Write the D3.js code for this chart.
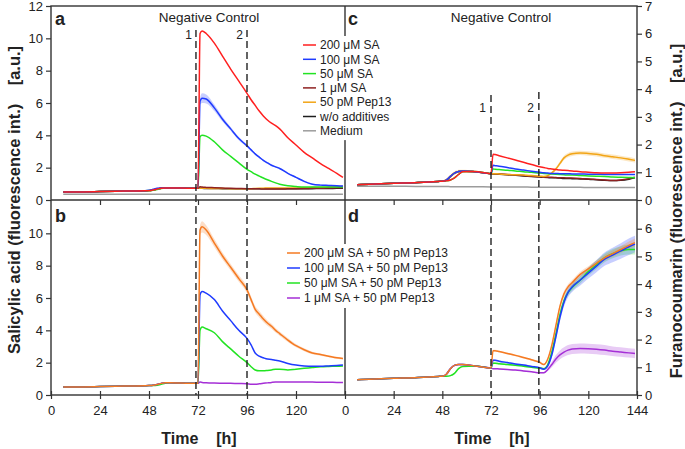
<!DOCTYPE html>
<html>
<head>
<meta charset="utf-8">
<script src="https://cdn.jsdelivr.net/npm/d3@7"></script>
<style>
body{margin:0;background:#fff}
text{font-family:"Liberation Sans",Arial,sans-serif;fill:#222}
</style>
</head>
<body>
<script>
// sampling times [h], shared by every series
const hours=[6,12,24,36,46,48,50,52,54,56,58,64,72,73,74,76,80,84,88,92,96,98,100,102,104,106,108,110,112,116,120,124,128,132,136,140,143]

// panel a: salicylic acid, negative control
const a200=[0.5,0.5,0.52,0.55,0.57,0.58,0.62,0.68,0.73,0.75,0.75,0.74,0.72, 10.3,10.45,10.3,9.7,8.9,8.1,7.35,6.6,6.2,5.85,5.5,5.2,4.95,4.75,4.6,4.4,3.85,3.4,2.95,2.6,2.25,1.95,1.65,1.4]
const a100=[0.5,0.5,0.52,0.55,0.57,0.6,0.66,0.72,0.75,0.75,0.75,0.74,0.72, 6.1,6.3,6.25,5.7,5.0,4.4,3.8,3.35,3.1,2.85,2.65,2.45,2.3,2.15,2.05,1.95,1.65,1.4,1.15,0.98,0.92,0.9,0.88,0.86]
const a100sd=[0.02,0.02,0.02,0.02,0.02,0.03,0.04,0.04,0.04,0.03,0.03,0.02,0.02, 0.2,0.3,0.28,0.2,0.15,0.12,0.1,0.08,0.07,0.06,0.06,0.05,0.05,0.05,0.05,0.05,0.04,0.04,0.04,0.04,0.04,0.04,0.04,0.04]
const a50=[0.5,0.5,0.52,0.55,0.57,0.58,0.6,0.65,0.71,0.74,0.75,0.74,0.72, 3.9,4.0,3.95,3.6,3.1,2.7,2.3,1.9,1.75,1.6,1.48,1.36,1.25,1.15,1.06,0.98,0.88,0.83,0.8,0.8,0.8,0.8,0.8,0.8]
const a1=[0.5,0.5,0.52,0.55,0.57,0.58,0.62,0.68,0.73,0.75,0.75,0.74,0.72, 0.82,0.8,0.78,0.76,0.74,0.72,0.71,0.7,0.7,0.69,0.69,0.68,0.68,0.68,0.68,0.68,0.69,0.7,0.71,0.72,0.73,0.74,0.75,0.76]
const aPep=[0.5,0.5,0.52,0.55,0.57,0.58,0.62,0.68,0.73,0.75,0.75,0.74,0.72, 0.72,0.72,0.72,0.71,0.71,0.7,0.7,0.7,0.7,0.71,0.72,0.73,0.74,0.75,0.75,0.75,0.75,0.75,0.76,0.77,0.78,0.8,0.82,0.84]
const aNone=[0.5,0.5,0.52,0.55,0.57,0.58,0.62,0.68,0.73,0.75,0.75,0.74,0.72, 0.72,0.72,0.71,0.71,0.7,0.7,0.7,0.7,0.7,0.7,0.7,0.7,0.7,0.7,0.7,0.7,0.7,0.7,0.7,0.7,0.71,0.71,0.72,0.72]
const aMed=[0.36,0.36,0.36,0.36,0.36,0.36,0.36,0.36,0.36,0.36,0.36,0.36,0.36, 0.36,0.36,0.36,0.36,0.36,0.36,0.36,0.36,0.36,0.36,0.36,0.36,0.36,0.36,0.36,0.36,0.36,0.36,0.36,0.36,0.36,0.36,0.36,0.36]

// panel b: salicylic acid, SA + Pep13
const b200=[0.5,0.5,0.52,0.55,0.57,0.58,0.6,0.65,0.72,0.76,0.76,0.74,0.72, 10.2,10.4,10.2,9.4,8.6,7.9,7.2,6.5,5.9,5.3,5.0,4.7,4.45,4.25,4.0,3.8,3.4,3.05,2.8,2.6,2.5,2.4,2.3,2.25]
const b200sd=[0.02,0.02,0.02,0.02,0.02,0.02,0.03,0.03,0.03,0.03,0.02,0.02,0.02, 0.3,0.35,0.3,0.25,0.22,0.2,0.2,0.2,0.2,0.2,0.2,0.18,0.16,0.15,0.14,0.13,0.12,0.1,0.09,0.08,0.07,0.06,0.06,0.06]
const b100=[0.5,0.5,0.52,0.55,0.57,0.58,0.6,0.65,0.72,0.76,0.76,0.74,0.72, 6.2,6.4,6.3,5.9,5.2,4.6,4.0,3.5,3.1,2.6,2.4,2.3,2.22,2.2,2.15,2.1,1.95,1.85,1.8,1.78,1.78,1.8,1.82,1.85]
const b50=[0.5,0.5,0.52,0.55,0.57,0.58,0.58,0.6,0.66,0.73,0.76,0.74,0.72, 4.0,4.2,4.1,3.85,3.3,2.85,2.4,2.0,1.75,1.55,1.5,1.5,1.52,1.55,1.6,1.6,1.55,1.6,1.65,1.7,1.75,1.77,1.78,1.8]
const b1=[0.5,0.5,0.52,0.55,0.57,0.58,0.6,0.65,0.72,0.76,0.76,0.74,0.72, 0.8,0.78,0.76,0.74,0.73,0.72,0.71,0.7,0.67,0.67,0.69,0.72,0.75,0.78,0.8,0.8,0.8,0.8,0.8,0.8,0.79,0.79,0.78,0.78]

// panel c: furanocoumarin, negative control
const c200=[0.55,0.57,0.6,0.63,0.67,0.68,0.69,0.72,0.8,0.92,1.02,1.03,0.95, 1.65,1.64,1.6,1.52,1.44,1.36,1.28,1.2,1.17,1.14,1.12,1.1,1.08,1.07,1.06,1.05,1.02,1.0,0.98,0.97,0.97,0.98,1.0,1.02]
const c100=[0.55,0.57,0.6,0.63,0.67,0.68,0.72,0.85,0.97,1.03,1.05,1.02,0.95, 1.25,1.24,1.22,1.17,1.12,1.08,1.04,1.0,0.98,0.97,0.96,0.96,0.95,0.95,0.95,0.94,0.94,0.93,0.93,0.92,0.92,0.92,0.92,0.92]
const c50=[0.55,0.57,0.6,0.63,0.67,0.68,0.69,0.72,0.8,0.92,1.02,1.03,0.95, 1.12,1.11,1.1,1.07,1.05,1.02,1.0,0.97,0.96,0.95,0.94,0.93,0.92,0.91,0.9,0.9,0.88,0.87,0.86,0.85,0.83,0.82,0.81,0.8]
const c1=[0.55,0.57,0.6,0.63,0.67,0.68,0.72,0.85,0.97,1.03,1.05,1.02,0.95, 0.95,0.95,0.94,0.92,0.9,0.88,0.86,0.84,0.83,0.82,0.82,0.81,0.8,0.8,0.79,0.79,0.78,0.76,0.74,0.72,0.7,0.72,0.77,0.82]
const cPep=[0.55,0.57,0.6,0.63,0.67,0.68,0.72,0.85,0.97,1.03,1.05,1.02,0.95, 0.95,0.95,0.94,0.92,0.91,0.9,0.88,0.86,0.85,0.88,0.98,1.12,1.32,1.52,1.62,1.67,1.7,1.68,1.65,1.6,1.56,1.52,1.47,1.43]
const cPepSd=[0.02,0.02,0.02,0.02,0.02,0.03,0.05,0.07,0.07,0.06,0.04,0.03,0.02, 0.02,0.02,0.02,0.02,0.02,0.02,0.02,0.02,0.02,0.03,0.05,0.06,0.07,0.08,0.08,0.08,0.08,0.08,0.08,0.08,0.08,0.08,0.08,0.08]
const cNone=[0.55,0.57,0.6,0.63,0.67,0.68,0.72,0.85,0.97,1.03,1.05,1.02,0.95, 0.94,0.94,0.93,0.91,0.89,0.87,0.85,0.83,0.82,0.81,0.8,0.8,0.79,0.78,0.78,0.77,0.76,0.75,0.73,0.71,0.7,0.71,0.75,0.8]
const cMed=[0.5,0.5,0.5,0.49,0.49,0.49,0.49,0.48,0.48,0.48,0.48,0.48,0.47, 0.47,0.47,0.47,0.47,0.47,0.47,0.46,0.46,0.46,0.46,0.46,0.46,0.46,0.46,0.46,0.46,0.46,0.45,0.45,0.45,0.45,0.45,0.45,0.45]

// panel d: furanocoumarin, SA + Pep13
const d200=[0.55,0.57,0.6,0.63,0.67,0.68,0.75,0.95,1.07,1.1,1.1,1.05,0.97, 1.6,1.6,1.57,1.5,1.43,1.35,1.27,1.18,1.1,1.3,1.8,2.5,3.2,3.65,3.9,4.05,4.35,4.55,4.75,4.95,5.1,5.25,5.4,5.5]
const d200sd=[0.01,0.01,0.01,0.01,0.01,0.01,0.02,0.02,0.02,0.02,0.02,0.02,0.02, 0.03,0.03,0.03,0.03,0.03,0.03,0.03,0.03,0.03,0.04,0.06,0.08,0.1,0.1,0.1,0.1,0.1,0.1,0.1,0.11,0.12,0.13,0.14,0.15]
const d100=[0.55,0.57,0.6,0.63,0.67,0.68,0.75,0.95,1.07,1.1,1.1,1.05,0.97, 1.25,1.25,1.22,1.17,1.12,1.08,1.03,0.98,0.93,1.05,1.45,2.1,2.8,3.35,3.7,3.9,4.15,4.4,4.65,4.9,5.05,5.2,5.35,5.45]
const d100sd=[0.01,0.01,0.01,0.01,0.01,0.01,0.02,0.02,0.02,0.02,0.02,0.02,0.02, 0.03,0.03,0.03,0.03,0.03,0.03,0.03,0.03,0.03,0.05,0.08,0.12,0.15,0.16,0.17,0.18,0.2,0.2,0.22,0.24,0.26,0.28,0.3,0.3]
const d50=[0.55,0.57,0.6,0.63,0.67,0.68,0.68,0.7,0.78,0.95,1.03,1.05,0.98, 1.15,1.15,1.13,1.1,1.07,1.04,1.0,0.97,0.95,1.1,1.55,2.2,2.9,3.4,3.7,3.88,4.15,4.45,4.7,4.95,5.1,5.2,5.25,5.25]
const d50sd=[0.01,0.01,0.01,0.01,0.01,0.01,0.02,0.02,0.03,0.03,0.02,0.02,0.02, 0.03,0.03,0.03,0.03,0.03,0.03,0.03,0.03,0.03,0.05,0.08,0.1,0.12,0.12,0.12,0.12,0.13,0.14,0.15,0.16,0.17,0.17,0.18,0.18]
const d1=[0.55,0.57,0.6,0.63,0.67,0.68,0.75,0.95,1.07,1.1,1.1,1.05,0.97, 0.95,0.95,0.94,0.92,0.9,0.87,0.84,0.8,0.8,0.92,1.1,1.3,1.45,1.55,1.62,1.66,1.68,1.67,1.65,1.62,1.58,1.55,1.52,1.5]
const d1sd=[0.01,0.01,0.01,0.01,0.01,0.01,0.02,0.02,0.02,0.02,0.02,0.02,0.02, 0.02,0.02,0.02,0.02,0.02,0.02,0.02,0.02,0.02,0.05,0.1,0.14,0.16,0.17,0.18,0.18,0.18,0.18,0.18,0.18,0.17,0.17,0.17,0.17]

// treatment times (dashed lines)
const eventsLeft=[71,96]
const eventsRight=[72,95.6]

const xTicksLeft=[0,24,48,72,96,120]
const xTicksRight=[0,24,48,72,96,120,144]

const W=685,H=449
const L=51,M=345,R=637,T=6,C=200,B=395

const svg=d3.select("body").append("svg").attr("width",W).attr("height",H)

const xL=d3.scaleLinear().domain([0,144]).range([L,M])
const xR=d3.scaleLinear().domain([0,144]).range([M,R])
const yA=d3.scaleLinear().domain([0,12]).range([C,T])
const yB=d3.scaleLinear().domain([0,12]).range([B,C+1])
const yC=d3.scaleLinear().domain([0,7]).range([C,T])
const yD=d3.scaleLinear().domain([0,7]).range([B,C+1])

const col={red:"#ff1f1f",blue:"#1f3bff",green:"#22e322",dark:"#8e2121",gold:"#f2a516",black:"#1e1e1e",gray:"#9c9c9c",orange:"#f57a22",purple:"#a52fd6"}

const panels=[
	{id:"a",x:xL,y:yA,top:T,bot:C,series:[
		{v:aMed,c:col.gray},{v:aNone,c:col.black},{v:aPep,c:col.gold},{v:a1,c:col.dark},
		{v:a50,c:col.green},{v:a100,c:col.blue,sd:a100sd},{v:a200,c:col.red}]},
	{id:"b",x:xL,y:yB,top:C,bot:B,series:[
		{v:b1,c:col.purple},{v:b50,c:col.green},{v:b100,c:col.blue},{v:b200,c:col.orange,sd:b200sd}]},
	{id:"c",x:xR,y:yC,top:T,bot:C,series:[
		{v:cMed,c:col.gray},{v:cNone,c:col.black},{v:c1,c:col.dark},{v:cPep,c:col.gold,sd:cPepSd},
		{v:c50,c:col.green},{v:c100,c:col.blue},{v:c200,c:col.red}]},
	{id:"d",x:xR,y:yD,top:C,bot:B,series:[
		{v:d1,c:col.purple,sd:d1sd},{v:d50,c:col.green,sd:d50sd},{v:d100,c:col.blue,sd:d100sd},{v:d200,c:col.orange,sd:d200sd}]},
]

const defs=svg.append("defs")
for(const p of panels){
	const x0=p.x.range()[0],x1=p.x.range()[1]
	defs.append("clipPath").attr("id","clip_"+p.id).append("rect")
		.attr("x",x0).attr("y",p.top).attr("width",x1-x0).attr("height",p.bot-p.top)
	const g=svg.append("g").attr("clip-path","url(#clip_"+p.id+")")
	// bands first, then lines
	for(const s of p.series){
		if(!s.sd) continue
		const area=d3.area().curve(d3.curveMonotoneX)
			.x((d,i)=>p.x(hours[i]))
			.y0((d,i)=>p.y(d-s.sd[i]))
			.y1((d,i)=>p.y(d+s.sd[i]))
		g.append("path").attr("d",area(s.v)).attr("fill",s.c).attr("fill-opacity",0.25)
	}
	for(const s of p.series){
		const line=d3.line().curve(d3.curveMonotoneX).x((d,i)=>p.x(hours[i])).y(d=>p.y(d))
		g.append("path").attr("d",line(s.v)).attr("fill","none").attr("stroke",s.c).attr("stroke-width",1.5)
	}
}

// dashed event lines
const dash=svg.append("g").attr("stroke","#222").attr("stroke-width",1.4).attr("stroke-dasharray","7,4")
eventsLeft.forEach((t,i)=>{
	dash.append("line").attr("x1",xL(t)).attr("x2",xL(t)).attr("y1",30).attr("y2",B)
	svg.append("text").attr("x",xL(t)-4).attr("y",39).attr("text-anchor","end").attr("font-size",12).text(i+1)
})
eventsRight.forEach((t,i)=>{
	const top=i==0?95:92
	dash.append("line").attr("x1",xR(t)).attr("x2",xR(t)).attr("y1",top).attr("y2",B)
	svg.append("text").attr("x",xR(t)-5).attr("y",112).attr("text-anchor","end").attr("font-size",12).text(i+1)
})

// frame
const frame=svg.append("g").attr("stroke","#333").attr("stroke-width",1.4)
frame.append("rect").attr("x",L).attr("y",T).attr("width",R-L).attr("height",B-T).attr("fill","none")
frame.append("line").attr("x1",L).attr("x2",R).attr("y1",C).attr("y2",C)
frame.append("line").attr("x1",M).attr("x2",M).attr("y1",T).attr("y2",B)

function styleAxis(g){
	g.select(".domain").remove()
	g.selectAll("line").attr("stroke","#333").attr("stroke-width",1.2)
	g.selectAll("text").attr("font-size",13).attr("fill","#222").attr("font-family","'Liberation Sans',Arial,sans-serif")
}
const fmt=d3.format("d")

svg.append("g").attr("transform","translate("+L+",0)")
	.call(d3.axisLeft(yA).tickValues([0,2,4,6,8,10,12]).tickFormat(fmt).tickSize(5).tickPadding(3)).call(styleAxis)
svg.append("g").attr("transform","translate("+L+",0)")
	.call(d3.axisLeft(yB).tickValues([0,2,4,6,8,10]).tickFormat(fmt).tickSize(5).tickPadding(3)).call(styleAxis)
svg.append("g").attr("transform","translate("+R+",0)")
	.call(d3.axisRight(yC).tickValues([0,1,2,3,4,5,6,7]).tickFormat(fmt).tickSize(5).tickPadding(3)).call(styleAxis)
svg.append("g").attr("transform","translate("+R+",0)")
	.call(d3.axisRight(yD).tickValues([0,1,2,3,4,5,6]).tickFormat(fmt).tickSize(5).tickPadding(3)).call(styleAxis)

for(const [sc,tv] of [[xL,xTicksLeft],[xR,xTicksRight]]){
	const gb=svg.append("g").attr("transform","translate(0,"+B+")")
		.call(d3.axisBottom(sc).tickValues(tv).tickFormat(fmt).tickSize(5).tickPadding(6)).call(styleAxis)
	gb.selectAll(".tick line").attr("y1",-4).attr("y2",4)
	svg.append("g").attr("transform","translate(0,"+C+")")
		.call(d3.axisBottom(sc).tickValues(tv.filter(t=>t>0&&t<144)).tickSize(5).tickFormat("")).call(styleAxis)
}

// titles and panel letters
for(const [x,txt] of [[209,"Negative Control"],[501,"Negative Control"]]){
	svg.append("text").attr("x",x).attr("y",22).attr("text-anchor","middle").attr("font-size",13.5).text(txt)
}
for(const [x,y,txt] of [[55,25,"a"],[55,222,"b"],[348,25,"c"],[348,222,"d"]]){
	svg.append("text").attr("x",x).attr("y",y).attr("font-size",18).attr("font-weight","bold").text(txt)
}

// axis titles
for(const x of [199,492]){
	svg.append("text").attr("x",x).attr("y",444).attr("text-anchor","middle").attr("font-size",16)
		.attr("font-weight","bold").style("white-space","pre").text("Time    [h]")
}
svg.append("text").attr("transform","translate(14,200) rotate(-90)").attr("text-anchor","middle")
	.attr("dominant-baseline","central").attr("font-size",16.5).attr("font-weight","bold")
	.style("white-space","pre").text("Salicylic acid (fluorescence int.)    [a.u.]")
svg.append("text").attr("transform","translate(676,211) rotate(-90)").attr("text-anchor","middle")
	.attr("dominant-baseline","central").attr("font-size",16.5).attr("font-weight","bold")
	.style("white-space","pre").text("Furanocoumarin (fluorescence int.)    [a.u.]")

// legends
const legendTop=["200 μM SA","100 μM SA","50 μM SA","1 μM SA","50 pM Pep13","w/o additives","Medium"]
const legendTopCol=[col.red,col.blue,col.green,col.dark,col.gold,col.black,col.gray]
const legendBot=["200 μM SA + 50 pM Pep13","100 μM SA + 50 pM Pep13","50 μM SA + 50 pM Pep13","1 μM SA + 50 pM Pep13"]
const legendBotCol=[col.orange,col.blue,col.green,col.purple]

function legend(x,y,step,names,colors,w){
	const g=svg.append("g")
	g.append("rect").attr("x",x-3).attr("y",y-9).attr("width",w).attr("height",step*names.length+4).attr("fill","#fff")
	const row=g.selectAll("g.row").data(names).join("g").attr("transform",(d,i)=>"translate("+x+","+(y+i*step)+")")
	row.append("line").attr("x1",0).attr("x2",13).attr("stroke",(d,i)=>colors[i]).attr("stroke-width",1.5)
	row.append("text").attr("x",17).attr("dy","0.35em").attr("font-size",12).text(d=>d)
}
legend(303,45,14.3,legendTop,legendTopCol,102)
legend(287,253,15,legendBot,legendBotCol,152)
</script>
</body>
</html>
